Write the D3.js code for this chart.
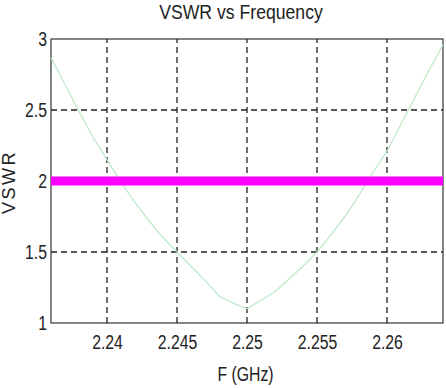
<!DOCTYPE html>
<html>
<head>
<meta charset="utf-8">
<script src="https://cdn.jsdelivr.net/npm/d3@7"></script>
<style>
  body { margin: 0; background: #fff; }
  text { font-family: "Liberation Sans", Arial, sans-serif; fill: #222; }
</style>
</head>
<body>
<svg id="chart" width="446" height="388"></svg>
<script>
// VSWR readings, 1 MHz apart
const freqs = [2.236, 2.237, 2.238, 2.239, 2.240, 2.241, 2.242, 2.243, 2.244, 2.245,
  2.246, 2.247, 2.248, 2.249, 2.250, 2.251, 2.252, 2.253, 2.254, 2.255,
  2.256, 2.257, 2.258, 2.259, 2.260, 2.261, 2.262, 2.263, 2.264];
const vswr = [2.87, 2.68, 2.49, 2.31, 2.15, 1.99, 1.85, 1.72, 1.60, 1.50,
  1.40, 1.30, 1.19, 1.14, 1.10, 1.16, 1.22, 1.31, 1.40, 1.50,
  1.62, 1.75, 1.90, 2.06, 2.21, 2.40, 2.59, 2.78, 2.96];
const limit = 2;
const xTicks = [2.24, 2.245, 2.25, 2.255, 2.26];
const yTicks = [1, 1.5, 2, 2.5, 3];

const svg = d3.select("#chart");
const margin = { top: 39, right: 3, bottom: 65, left: 51 };
const width = 446, height = 388;
const squeeze = 0.77; // the original font is a condensed one

const x = d3.scaleLinear().domain([2.236, 2.264]).range([margin.left, width - margin.right]);
const y = d3.scaleLinear().domain([1, 3]).range([height - margin.bottom, margin.top]);

// dashed grid
svg.append("g").selectAll("line")
    .data(xTicks)
    .join("line")
    .attr("x1", d => x(d)).attr("x2", d => x(d))
    .attr("y1", y(1)).attr("y2", y(3))
    .attr("stroke", "#222").attr("stroke-width", 1.3)
    .attr("stroke-dasharray", "6,4");

svg.append("g").selectAll("line")
    .data(yTicks.filter(d => d > 1 && d < 3))
    .join("line")
    .attr("x1", x(2.236)).attr("x2", x(2.264))
    .attr("y1", d => y(d)).attr("y2", d => y(d))
    .attr("stroke", "#222").attr("stroke-width", 1.3)
    .attr("stroke-dasharray", "6,4");

// frame
svg.append("rect")
    .attr("x", x(2.236)).attr("y", y(3))
    .attr("width", x(2.264) - x(2.236)).attr("height", y(1) - y(3))
    .attr("fill", "none").attr("stroke", "#333").attr("stroke-width", 1.2);

// axes (labels only)
const xAxis = svg.append("g")
    .attr("transform", `translate(0,${y(1)})`)
    .call(d3.axisBottom(x).tickValues(xTicks).tickSize(0).tickPadding(11).tickFormat(d3.format("")));
xAxis.select(".domain").remove();
xAxis.selectAll("text")
    .style("font-size", "20.5px")
    .attr("transform", `scale(${squeeze},1)`);

const yAxis = svg.append("g")
    .attr("transform", `translate(${x(2.236)},0)`)
    .call(d3.axisLeft(y).tickValues(yTicks).tickSize(0).tickFormat(d3.format("")));
yAxis.select(".domain").remove();
yAxis.selectAll("text")
    .style("font-size", "20.5px")
    .attr("x", -4 / squeeze)
    .attr("transform", `scale(${squeeze},1)`);

// VSWR curve
svg.append("path")
    .datum(freqs.map((f, i) => [f, vswr[i]]))
    .attr("fill", "none")
    .attr("stroke", "#bfe9c8")
    .attr("stroke-width", 1.3)
    .attr("d", d3.line().x(d => x(d[0])).y(d => y(d[1])));

// limit line
svg.append("line")
    .attr("x1", x(2.236)).attr("x2", x(2.264))
    .attr("y1", y(limit)).attr("y2", y(limit))
    .attr("stroke", "#ff00ff").attr("stroke-width", 9);

// titles
svg.append("text")
    .attr("transform", `translate(241,19) scale(0.86,1)`)
    .attr("text-anchor", "middle")
    .style("font-size", "20.5px")
    .text("VSWR vs Frequency");

svg.append("text")
    .attr("transform", `translate(245.5,381) scale(${squeeze},1)`)
    .attr("text-anchor", "middle")
    .style("font-size", "20.5px")
    .text("F (GHz)");

svg.append("text")
    .attr("transform", `translate(15,${y(2) + 1}) rotate(-90)`)
    .attr("text-anchor", "middle")
    .style("font-size", "18px")
    .style("letter-spacing", "2.5px")
    .text("VSWR");
</script>
</body>
</html>
